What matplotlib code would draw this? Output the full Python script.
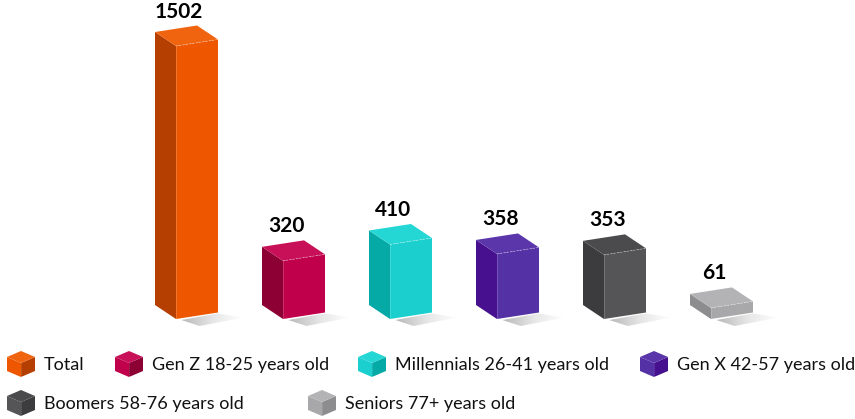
import matplotlib.pyplot as plt
import numpy as np
from matplotlib.patches import Polygon
from matplotlib.colors import LinearSegmentedColormap

plt.rcParams['font.family'] = ['Lato', 'DejaVu Sans']

# data
groups = ['Total', 'Gen Z 18-25 years old', 'Millennials 26-41 years old',
          'Gen X 42-57 years old', 'Boomers 58-76 years old', 'Seniors 77+ years old']
values = [1502, 320, 410, 358, 353, 61]

# colours per group: front, left side, top
front_cols = ['#ef5600', '#c0004b', '#1ccfcf', '#5431a4', '#555557', '#a8a8aa']
side_cols = ['#b53f00', '#8c0034', '#05aaa7', '#46108e', '#3c3c3e', '#8d8d8f']
top_cols = ['#f06410', '#c81058', '#24d6d4', '#5a36aa', '#4b4b4d', '#b3b3b5']

fig = plt.figure(figsize=(8.55, 4.19), dpi=100)

# bar axes: x in category index, y in value units
ax = fig.add_axes([0, 0, 1, 1])
px_per_cat = 107.0
px_per_val = 273.0 / 1502
ax.set_xlim(-176 / px_per_cat, (855 - 176) / px_per_cat)
ax.set_ylim(-100 / px_per_val, 319 / px_per_val)
ax.axis('off')

w = 42 / px_per_cat          # front face width
rise = 6.5 / px_per_val      # perspective tilt of the front face
ddx = -21 / px_per_cat       # depth offset (goes back up-left)
ddy = 14 / px_per_val

shade = LinearSegmentedColormap.from_list('shade', ['#b8b8b8', '#e6e6e6', '#ffffff'])
grad = np.linspace(0, 1, 64)[None, :]
for i, v in enumerate(values):
    x0 = i
    # soft floor shadow
    shadow = Polygon([(x0 + 0.05, -1 / px_per_val), (x0 + w, rise - 1 / px_per_val),
                      (x0 + w + 0.24, rise - 5 / px_per_val), (x0 + 0.22, -7 / px_per_val)],
                     closed=True, facecolor='none', edgecolor='none')
    ax.add_patch(shadow)
    im = ax.imshow(grad, cmap=shade, aspect='auto',
                   extent=(x0 + 0.05, x0 + w + 0.24, -8 / px_per_val, rise), zorder=1)
    im.set_clip_path(shadow)

    fl = (x0, 0)
    fr = (x0 + w, rise)
    tl = (x0, v)
    tr = (x0 + w, v + rise)
    bl = (x0 + ddx, ddy)
    btl = (x0 + ddx, v + ddy)
    btr = (x0 + w + ddx, v + rise + ddy)

    ax.add_patch(Polygon([bl, fl, tl, btl], closed=True, facecolor=side_cols[i],
                         edgecolor='none', zorder=2))
    ax.add_patch(Polygon([fl, fr, tr, tl], closed=True, facecolor=front_cols[i],
                         edgecolor='none', zorder=2))
    ax.add_patch(Polygon([tl, tr, btr, btl], closed=True, facecolor=top_cols[i],
                         edgecolor='none', zorder=2))
    ax.plot([tl[0], tr[0]], [tl[1], tr[1]], color='white', lw=0.6, alpha=0.45,
            ls=(0, (2, 2)), zorder=3)
    ax.plot([tl[0], fl[0]], [tl[1], fl[1]], color='white', lw=0.5, alpha=0.25, zorder=3)

    ax.text(x0 + 0.03, v + rise + ddy + 4 / px_per_val, str(v), ha='center', va='bottom',
            fontsize=15, fontweight='bold', color='black', zorder=4)

# legend in pixel coordinates
lg = fig.add_axes([0, 0, 1, 1])
lg.set_xlim(0, 855)
lg.set_ylim(419, 0)
lg.axis('off')
lg.patch.set_alpha(0)

legend_pos = [(7, 364), (115, 364), (358, 364), (640, 364), (7, 403), (308, 403)]


def cube_icon(a, x, yc, i):
    cx = x + 14
    top = [(cx, yc - 13), (x + 28, yc - 7), (cx, yc - 1), (x, yc - 7)]
    left = [(x, yc - 7), (cx, yc - 1), (cx, yc + 13), (x, yc + 7)]
    right = [(cx, yc - 1), (x + 28, yc - 7), (x + 28, yc + 7), (cx, yc + 13)]
    a.add_patch(Polygon(left, closed=True, facecolor=front_cols[i], edgecolor='none'))
    a.add_patch(Polygon(right, closed=True, facecolor=side_cols[i], edgecolor='none'))
    a.add_patch(Polygon(top, closed=True, facecolor=top_cols[i], edgecolor='none'))
    a.plot([cx, cx], [yc - 1, yc + 13], color='white', lw=0.5, alpha=0.35, ls=(0, (1.5, 1.5)))


for i, (name, (x, yc)) in enumerate(zip(groups, legend_pos)):
    cube_icon(lg, x, yc, i)
    lg.text(x + 37, yc + 1, name, ha='left', va='center', fontsize=13, color='#111111')

plt.savefig('out.png', dpi=100)
